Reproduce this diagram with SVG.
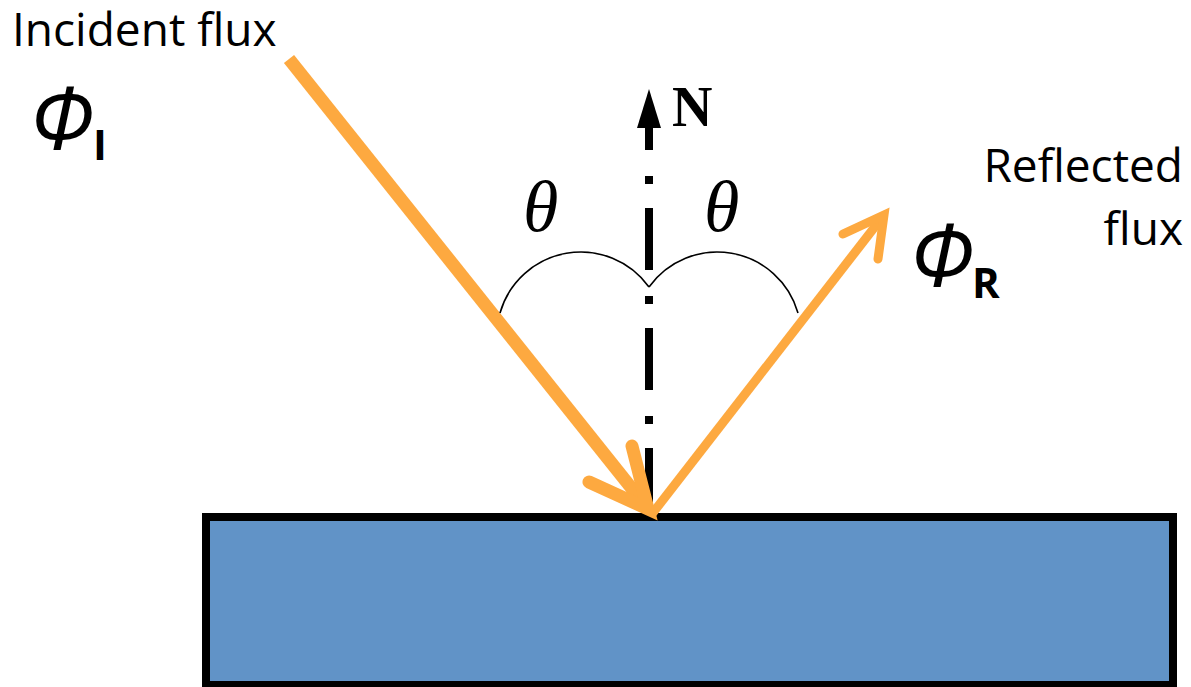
<svg xmlns="http://www.w3.org/2000/svg" width="1191" height="687" viewBox="0 0 1191 687">
<style>
.lbl{font-family:"Open Sans","Liberation Sans",sans-serif;fill:#000}
.phi{font-family:"Open Sans","Liberation Sans",sans-serif;font-style:italic;fill:#000}
.sub{font-family:"Open Sans","Liberation Sans",sans-serif;font-weight:bold;fill:#000}
.greek{font-family:"Liberation Serif","DejaVu Serif",serif;font-style:italic;fill:#000}
.ray{fill:none;stroke:#fda940;stroke-linejoin:miter}
</style>
<rect width="1191" height="687" fill="#fff"/>
<g id="surface">
<rect x="206" y="517" width="967" height="168" fill="#6193c7" stroke="#000" stroke-width="8"/>
</g>
<g id="connectors">
<path d="M649,510 L649,126" fill="none" stroke="#000" stroke-width="8" stroke-dasharray="62 24 8 26"/>
<polygon points="649,89 637,128 661,128" fill="#000"/>
<path class="ray" d="M289,59 L645,505" stroke-width="13"/>
<path class="ray" d="M589,482 L648,509 L632,446" stroke-width="13" stroke-linecap="round"/>
<path class="ray" d="M652,514 L884,215" stroke-width="9"/>
<path class="ray" d="M843,234 L884,215 L878,259" stroke-width="9" stroke-linecap="round"/>
<path d="M500,313 A84,84 0 0,1 649,287" fill="none" stroke="#000" stroke-width="1.6"/>
<path d="M649,287 A84,84 0 0,1 798,313" fill="none" stroke="#000" stroke-width="1.6"/>
</g>
<g id="incident-label">
<text class="lbl" x="12" y="46" font-size="46">Incident flux</text>
<text class="phi" x="30" y="149" font-size="86">Φ</text>
<text class="sub" x="93" y="160" font-size="42">I</text>
</g>
<g id="reflected-label">
<text class="lbl" x="1183" y="182" font-size="46" text-anchor="end">Reflected</text>
<text class="lbl" x="1183" y="245" font-size="46" text-anchor="end">flux</text>
<text class="phi" x="910" y="286" font-size="86">Φ</text>
<text class="sub" x="972" y="298" font-size="42">R</text>
</g>
<g id="normal-label">
<text x="672" y="126" font-family="Liberation Serif, DejaVu Serif, serif" font-weight="bold" font-size="56">N</text>
</g>
<g id="angles">
<text class="greek" x="523" y="231" font-size="72">θ</text>
<text class="greek" x="704" y="231" font-size="72">θ</text>
</g>
</svg>
